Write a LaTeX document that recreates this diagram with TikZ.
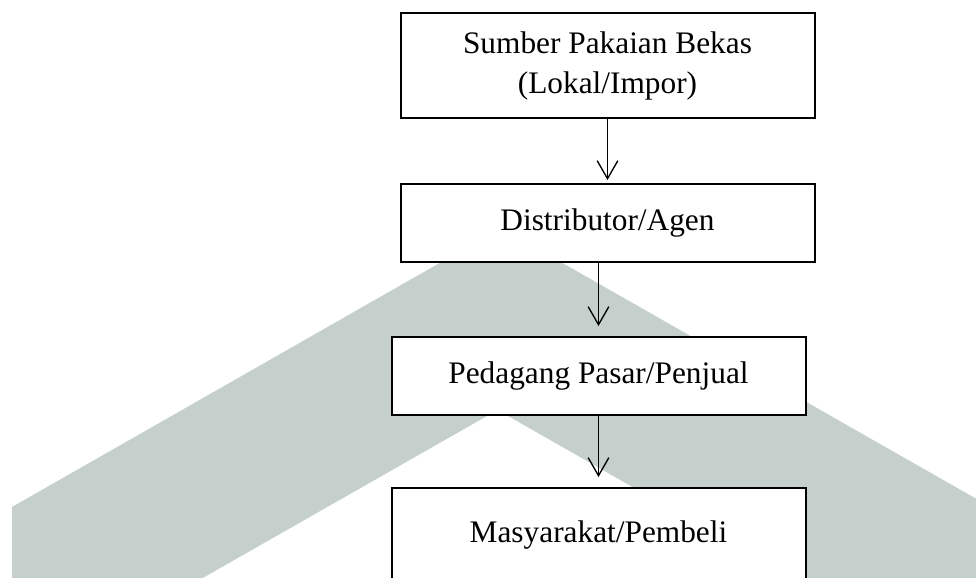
\documentclass[tikz,border=0pt]{standalone}
\usepackage{fontspec}
\setmainfont{Liberation Serif}
\usetikzlibrary{positioning, arrows.meta}
\definecolor{watermark}{RGB}{197,208,204}
\tikzset{
  flowbox/.style={rectangle, draw=black, line width=1.5pt, fill=white, minimum width=310.5pt, minimum height=58.5pt, text centered, align=center, outer sep=0pt, font=\fontsize{23.5}{30}\selectfont},
  arrow/.style={line width=1pt, -{Straight Barb[length=13.5pt, width=15.5pt]}, shorten >=8.25pt}
}

\begin{document}
\begin{tikzpicture}[x=0.75pt, y=-0.75pt]
\useasboundingbox (0,0) rectangle (976,578);
\clip (0,0) rectangle (976,578);
% logo di latar belakang
\fill[watermark] (12,620) -- (12,507) -- (501,228) -- (1010,518) -- (1010,620) -- (866,620) -- (497.5,410) -- (129,620) -- cycle;

\node (source) [flowbox, minimum height=78.75pt] at (607.5,65.5) {Sumber Pakaian Bekas\\(Lokal/Impor)};
\node (distributor) [flowbox, below=49.5pt of source] {Distributor/Agen};
\node (seller) [flowbox, below=56.25pt of distributor, xshift=-6.75pt] {Pedagang Pasar/Penjual};
\node (buyer) [flowbox, minimum height=70.5pt, below=54.75pt of seller] {Masyarakat/Pembeli};

\draw [arrow, shorten >=3pt] (source) -- (distributor);
\draw [arrow] (distributor.south -| seller) -- (seller);
\draw [arrow] (seller) -- (buyer);
\end{tikzpicture}
\end{document}
